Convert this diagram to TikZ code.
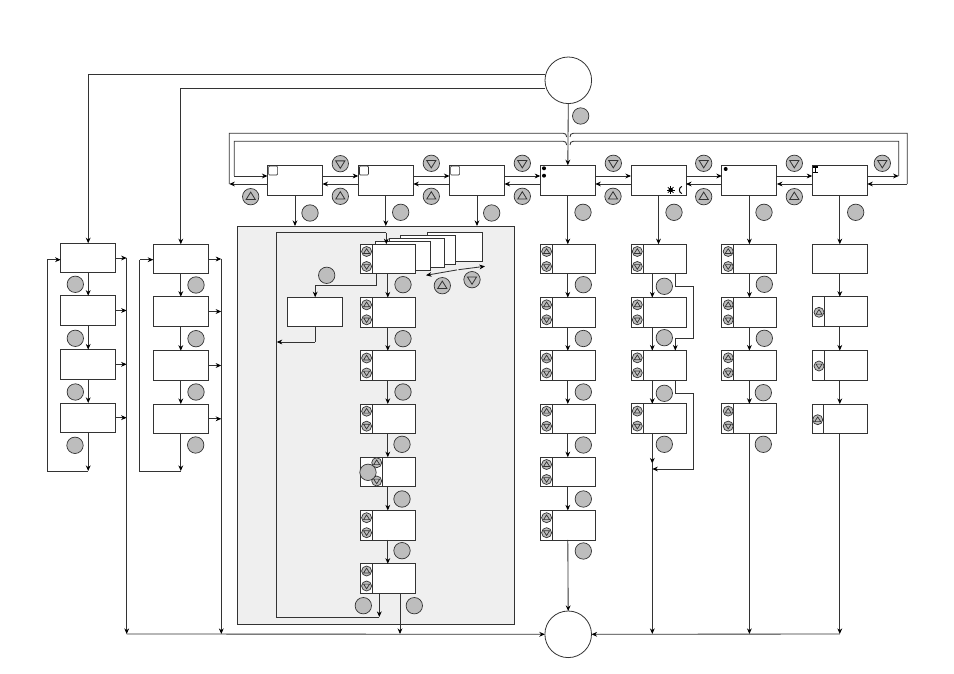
\documentclass[tikz,border=0pt]{standalone}
\usetikzlibrary{arrows.meta,calc}
\definecolor{ln}{HTML}{333333}
\definecolor{btn}{HTML}{BDBDBD}
\definecolor{pan}{HTML}{EFEFEF}
\tikzset{
 conn/.style={draw=ln,line width=0.85pt},
 arr/.style={conn,-{Stealth[length=5.6pt,width=4.8pt,black]}},
 box/.style={rectangle,draw=ln,line width=0.85pt,fill=white,minimum width=55pt,minimum height=29.5pt,inner sep=0pt,outer sep=0pt},
 topbox/.style={box,minimum height=30pt},
 page/.style={box},
 state/.style={circle,draw=ln,line width=0.8pt,fill=white,minimum size=46.6pt,inner sep=0pt,outer sep=0pt},
 badge/.style={circle,draw=ln,line width=0.7pt,fill=btn,minimum size=16.4pt,inner sep=0pt,outer sep=0pt},
 bigup/.style={badge,path picture={\draw[ln,line width=0.8pt,shift={(path picture bounding box.center)}] (0,-4.6) -- (4.6,2.8) -- (-4.6,2.8) -- cycle;}},
 bigdown/.style={badge,path picture={\draw[ln,line width=0.8pt,shift={(path picture bounding box.center)}] (0,4.6) -- (4.6,-2.8) -- (-4.6,-2.8) -- cycle;}},
 smallup/.style={badge,minimum size=10pt,path picture={\draw[ln,line width=0.7pt,shift={(path picture bounding box.center)}] (0,-2.8) -- (3,1.9) -- (-3,1.9) -- cycle;}},
 smalldown/.style={badge,minimum size=10pt,path picture={\draw[ln,line width=0.7pt,shift={(path picture bounding box.center)}] (0,2.8) -- (3,-1.9) -- (-3,-1.9) -- cycle;}},
 flag/.style={rectangle,rounded corners=1pt,draw=ln,line width=0.7pt,fill=white,minimum size=9pt,inner sep=0pt},
 blackdot/.style={circle,fill=black,minimum size=4pt,inner sep=0pt},
}
% box with a divider and the two key icons: name, centre x, centre y
\newcommand{\dbox}[3]{%
 \node[box] (#1) at (#2,#3) {};
 \draw[conn] ([xshift=12pt]#1.north west) -- ([xshift=12pt]#1.south west);
 \node[smallup] (#1-u) at ($(#1.west)+(6.3,-7.5)$) {};
 \node[smalldown] (#1-d) at ($(#1.west)+(6.3,7.5)$) {};
}
\begin{document}
\begin{tikzpicture}[x=1pt,y=-1pt]
\useasboundingbox (0,0) rectangle (954,674);
\fill[white] (0,0) rectangle (954,674);
% panel
\node[rectangle,draw=ln,line width=0.7pt,fill=pan,minimum width=277pt,minimum height=398.3pt,inner sep=0pt,outer sep=0pt] (panel) at (376.2,425.15) {};
% state circles
\node[state] (start) at (568.3,80.3) {};
\node[state] (stop) at (568.2,634.3) {};
% top row
\node[topbox] (t1) at (295,180.3) {};
\node[topbox] (t2) at (385.8,180.3) {};
\node[topbox] (t3) at (477,180.3) {};
\node[topbox] (t4) at (567.8,180.3) {};
\node[topbox] (t5) at (658.5,180.3) {};
\node[topbox] (t6) at (749.4,180.3) {};
\node[topbox] (t7) at (839.8,180.3) {};
\foreach \n in {t1,t2,t3} \node[flag] (\n-f) at ($(\n.north west)+(5.6,5.3)$) {};
\node[blackdot] (t4-a) at (544,168.3) {};
\node[blackdot] (t4-b) at (544,175.7) {};
\node[blackdot] (t6-a) at (725.7,169) {};
% hourglass mark
\draw[black,line width=1.1pt] (813.2,167) -- (818.2,167) (815.7,167) -- (815.7,172.6) (813.2,172.6) -- (818.2,172.6);
% sun and moon marks
\fill[black] (670.7,190) circle (2.2pt);
\foreach \a in {0,45,...,315} \draw[black,line width=0.7pt] (670.7,190) -- ++(\a:4);
\draw[black,line width=1pt] (681.8,186.4) .. controls (678.6,187.5) and (678.6,192.5) .. (681.8,193.6);
% left columns
\node[box] (a1) at (88.2,258) {};
\node[box] (a2) at (88.2,310.5) {};
\node[box] (a3) at (88.2,364.3) {};
\node[box] (a4) at (88.2,417.7) {};
\node[box] (b1) at (180.8,259) {};
\node[box] (b2) at (180.8,311.5) {};
\node[box] (b3) at (180.8,365.5) {};
\node[box] (b4) at (180.8,418.8) {};
% stacked pages
\node[page] (s4) at (455,246.8) {};
\node[page] (s3) at (427.6,250) {};
\node[page] (s2) at (417,253) {};
\node[page] (s1) at (403.2,255.9) {};
% panel column
\dbox{p1}{387.8}{259}
\dbox{p2}{387.8}{312.3}
\dbox{p3}{387.8}{365.5}
\dbox{p4}{387.8}{418.7}
\node[box] (p5) at (387.8,472) {};
\draw[conn] ([xshift=22pt]p5.north west) -- ([xshift=22pt]p5.south west);
\node[smallup] (p5-u) at (376.7,462.7) {};
\node[smalldown] (p5-d) at (376.7,481) {};
\dbox{p6}{387.8}{525.2}
\dbox{p7}{387.8}{578.5}
\node[box] (x) at (315.2,312) {};
% column 4
\dbox{c1}{567.8}{259}
\dbox{c2}{567.8}{312.3}
\dbox{c3}{567.8}{365.5}
\dbox{c4}{567.8}{418.7}
\dbox{c5}{567.8}{472}
\dbox{c6}{567.8}{525.2}
% column 5
\dbox{d1}{658.5}{259}
\dbox{d2}{658.5}{312.3}
\dbox{d3}{658.5}{365.3}
\dbox{d4}{658.5}{418.6}
% column 6
\dbox{e1}{749.4}{259}
\dbox{e2}{749.4}{312.3}
\dbox{e3}{749.4}{365.3}
\dbox{e4}{749.4}{418.6}
% column 7
\node[box] (f1) at (839.8,259) {};
\node[box] (f2) at (839.8,311.5) {};
\node[box] (f3) at (839.8,365.3) {};
\node[box] (f4) at (839.8,418.8) {};
\draw[conn] ([xshift=12pt]f2.north west) -- ([xshift=12pt]f2.south west);
\draw[conn] ([xshift=12pt]f3.north west) -- ([xshift=12pt]f3.south west);
\draw[conn] ([xshift=11pt]f4.north west) -- ([xshift=11pt]f4.south west);
\node[smallup] (f2-u) at (819,312.3) {};
\node[smalldown] (f3-d) at (819,366) {};
\node[smallup] (f4-u) at (817.7,419.7) {};
% free ends
\coordinate (nwo) at (229.3,133.3);
\coordinate (nwi) at (234.3,141.3);
\coordinate (neo) at (907.3,133.3);
\coordinate (nei) at (898.7,141.3);
\coordinate (lo) at (229.3,184);
\coordinate (li) at (234.3,176);
\coordinate (ro) at (907.3,184);
\coordinate (ri) at (898.7,176);
\coordinate (a-bus) at (126.7,634);
\coordinate (b-bus) at (221.3,634);
\coordinate (a-end) at (88.2,471);
\coordinate (b-end) at (180.8,471);
% start connections
\draw[conn] (start.west |- 0,74.3) -- (88.2,74.3);
\draw[arr] (88.2,74.3) -- (a1.north);
\draw[conn] (start.west |- 0,88.3) -- (180.8,88.3);
\draw[arr] (180.8,88.3) -- (b1.north);
\draw[arr] (start.south) -- (t4.north);
% loops on top
\draw[conn] (lo) -- (nwo) -- (563.3,133.3) .. controls (565.5,133.3) and (566.6,134.5) .. (566.6,137);
\draw[conn] (570,137) .. controls (570,134.5) and (571.1,133.3) .. (573.3,133.3) -- (neo) -- (ro);
\draw[conn] (li) -- (nwi) -- (563.3,141.3) .. controls (565.5,141.3) and (566.6,142.5) .. (566.6,145);
\draw[conn] (570,145) .. controls (570,142.5) and (571.1,141.3) .. (573.3,141.3) -- (nei) -- (ri);
\draw[arr] ([yshift=-3.7pt]t1.west) -- (lo);
\draw[arr] (li) -- ([yshift=4.3pt]t1.west);
\draw[arr] (ro) -- ([yshift=-3.7pt]t7.east);
\draw[arr] ([yshift=4.3pt]t7.east) -- (ri);
\foreach \l/\r in {t1/t2,t2/t3,t3/t4,t4/t5,t5/t6,t6/t7}{
 \draw[arr] ([yshift=4.3pt]\l.east) -- ([yshift=4.3pt]\r.west);
 \draw[arr] ([yshift=-3.7pt]\r.west) -- ([yshift=-3.7pt]\l.east);
}
% down to panel and columns
\draw[arr] (t1.south) -- (t1.south |- panel.north);
\draw[arr] (t2.south) -- (t2.south |- panel.north);
\draw[arr] (t3.south) -- (t3.south |- panel.north);
\draw[arr] (t4.south) -- (c1.north);
\draw[arr] (t5.south) -- (d1.north);
\draw[arr] (t6.south) -- (e1.north);
\draw[arr] (t7.south) -- (f1.north);
% left columns
\foreach \l/\r in {a1/a2,a2/a3,a3/a4,b1/b2,b2/b3,b3/b4}{\draw[arr] (\l.south) -- (\r.north);}
\draw[arr] (a4.south) -- (a-end);
\draw[arr] (b4.south) -- (b-end);
\draw[conn] (a-end) -- (47.3,471) -- (47.3,259.7);
\draw[arr] (47.3,259.7) -- ([yshift=-1.7pt]a1.west);
\draw[conn] (b-end) -- (139.7,471) -- (139.7,259.7);
\draw[arr] (139.7,259.7) -- ([yshift=-0.7pt]b1.west);
\foreach \n in {a1,a2,a3,a4}{\draw[arr] (\n.east) -- (\n.east -| a-bus);}
\foreach \n in {b1,b2,b3,b4}{\draw[arr] (\n.east) -- (\n.east -| b-bus);}
\draw[arr] (a1.east -| a-bus) -- (a-bus);
\draw[arr] (b1.east -| b-bus) -- (b-bus);
% panel column
\foreach \l/\r in {p1/p2,p2/p3,p3/p4,p4/p5,p5/p6,p6/p7}{\draw[arr] (\l.south) -- (\r.north);}
\coordinate (ploopb) at (379.3,617);
\coordinate (ploopl) at (276.7,617);
\coordinate (ploopt) at (276.7,232.7);
\draw[arr] ([xshift=-8.5pt]p7.south) -- (ploopb);
\draw[conn] (ploopb) -- (ploopl) -- (ploopt) -- (386.3,232.7);
\draw[arr] (386.3,232.7) -- ([xshift=-1.5pt]p1.north);
\draw[arr] ([xshift=12.2pt]p7.south) -- (400,634);
\draw[conn] ([xshift=-11pt]p1.south) -- (376.8,285.3) -- (315.2,285.3);
\draw[arr] (315.2,285.3) -- (x.north);
\draw[conn] (x.south) -- (315.2,342);
\draw[arr] (315.2,342) -- (ploopl |- 0,342);
% page-turn arrows
\coordinate (pa) at (457,269.9);
\coordinate (pb) at (458.5,269.7);
\draw[arr] (pa) -- (426,275.3);
\draw[arr] (pb) -- (485,266.3);
% column 4
\foreach \l/\r in {c1/c2,c2/c3,c3/c4,c4/c5,c5/c6}{\draw[arr] (\l.south) -- (\r.north);}
\draw[arr] (c6.south) -- (stop.north);
% column 5
\foreach \l/\r in {d1/d2,d2/d3,d3/d4}{\draw[arr] ([xshift=-6.2pt]\l.south) -- ([xshift=-6.2pt]\r.north);}
\coordinate (dj) at (652.3,469);
\draw[arr] ([xshift=-6.2pt]d4.south) -- (652.3,463.5);
\draw[arr] (652.3,463) -- (652.3,634);
\draw[conn] ([xshift=16.8pt]d1.south) -- (675.3,286.3) -- (693.7,286.3) -- (693.7,338.3) -- (675.3,338.3);
\draw[arr] (675.3,338.3) -- ([xshift=16.8pt]d3.north);
\draw[conn] ([xshift=16.8pt]d3.south) -- (675.3,393.3) -- (693.7,393.3) -- (693.7,469);
\draw[arr] (693.7,469) -- (dj);
% column 6
\foreach \l/\r in {e1/e2,e2/e3,e3/e4}{\draw[arr] (\l.south) -- (\r.north);}
\draw[arr] (e4.south) -- (749.4,634);
% column 7
\foreach \l/\r in {f1/f2,f2/f3,f3/f4}{\draw[arr] (\l.south) -- (\r.north);}
\draw[arr] (f4.south) -- (839.8,634);
% bus to stop
\draw[arr] (a-bus) -- (stop.west);
\draw[arr] (839.8,634) -- (stop.east);
% triangle buttons
\foreach \x/\y [count=\i] in {340.3/163.7,431.3/163.3,522.3/163.3,613.3/163.3,703.7/163.3,794.3/163.3,882.3/163.3,472/279.7}
 \node[bigdown] (kd\i) at (\x,\y) {};
\foreach \x/\y [count=\i] in {250.7/196.7,340.3/196.3,431.3/196.3,522.3/196.3,613/196.3,703.7/196.7,794.3/196.7,442.3/285.7}
 \node[bigup] (ku\i) at (\x,\y) {};
% plain badges
\foreach \x/\y [count=\i] in {580.7/116,
 75.3/284.3,75.3/338.3,75.3/392,75/445.3,
 196/285,196/338.7,196/392,195.7/445,
 310/213,400.7/212.3,491.7/213,583/212.3,674/212.3,764/212.3,855.7/212.3,
 326.7/275.3,403/284.7,403/338.7,403/392,402/444.3,368/472.3,402/499,402/550.7,363.3/605.7,414.3/605.7,
 583.3/284.7,583.3/338.5,583.3/392,583.3/445,583.3/499,583.3/551,
 664.3/286.3,664.3/337.7,664.3/393.3,664.3/444.3,
 764.3/284.3,764.3/338.3,763.3/392.7,763.3/444.3}
 \node[badge] (m\i) at (\x,\y) {};
\end{tikzpicture}
\end{document}
